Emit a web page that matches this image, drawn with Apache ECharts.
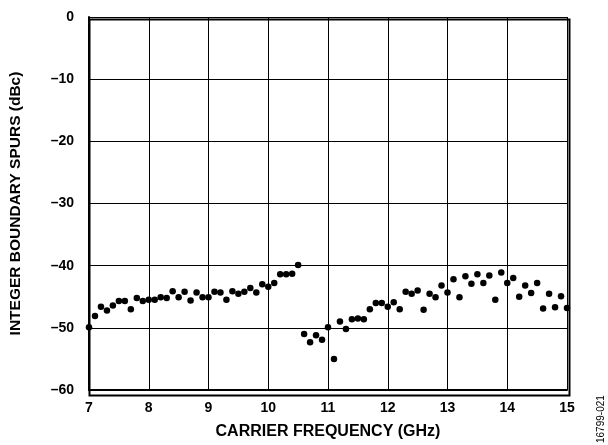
<!DOCTYPE html>
<html><head><meta charset="utf-8">
<script src="https://cdn.jsdelivr.net/npm/echarts@6/dist/echarts.min.js"></script>
<style>html,body{margin:0;padding:0;background:#fff}#c{width:608px;height:445px}</style>
</head><body><div id="c"></div>
<script>
const freqGHz = [7.0,7.1,7.2,7.3,7.4,7.5,7.6,7.7,7.8,7.9,8.0,8.1,8.2,8.3,8.4,8.5,8.6,8.7,8.8,8.9,9.0,9.1,9.2,9.3,9.4,9.5,9.6,9.7,9.8,9.9,10.0,10.1,10.2,10.3,10.4,10.5,10.6,10.7,10.8,10.9,11.0,11.1,11.2,11.3,11.4,11.5,11.6,11.7,11.8,11.9,12.0,12.1,12.2,12.3,12.4,12.5,12.6,12.7,12.8,12.9,13.0,13.1,13.2,13.3,13.4,13.5,13.6,13.7,13.8,13.9,14.0,14.1,14.2,14.3,14.4,14.5,14.6,14.7,14.8,14.9,15.0];
const spurs_dBc = [-49.9,-48.1,-46.6,-47.2,-46.4,-45.7,-45.7,-47.0,-45.2,-45.7,-45.5,-45.5,-45.1,-45.2,-44.1,-45.1,-44.2,-45.6,-44.3,-45.1,-45.1,-44.2,-44.3,-45.5,-44.1,-44.5,-44.2,-43.6,-44.3,-43.0,-43.4,-42.8,-41.4,-41.4,-41.3,-39.9,-51.0,-52.3,-51.2,-51.9,-49.9,-55.0,-49.0,-50.2,-48.6,-48.5,-48.6,-47.0,-46.0,-46.0,-46.6,-45.9,-47.0,-44.2,-44.5,-44.0,-47.1,-44.5,-45.1,-43.2,-44.3,-42.2,-45.1,-41.7,-42.9,-41.4,-42.8,-41.6,-45.5,-41.1,-42.8,-42.0,-45.0,-43.2,-44.4,-42.8,-46.9,-44.5,-46.7,-44.9,-46.8];
const xTicks = [7,8,9,10,11,12,13,14,15];
const yTicks = [0,-10,-20,-30,-40,-50,-60];
const xTitle = 'CARRIER FREQUENCY (GHz)';
const yTitle = 'INTEGER BOUNDARY SPURS (dBc)';
const figId = '16799-021';

const F = 'Liberation Sans, Arial, sans-serif';
const chart = echarts.init(document.getElementById('c'), null, {renderer:'canvas'});
chart.setOption({
  animation:false,
  grid:{left:87,top:17,right:41,bottom:53,containLabel:false},
  xAxis:{type:'value',min:xTicks[0],max:xTicks[xTicks.length-1],interval:1,
    name:xTitle,nameLocation:'middle',nameGap:34,
    nameTextStyle:{fontFamily:F,fontWeight:'bold',fontSize:16,color:'#000'},
    axisLine:{show:true,onZero:false,lineStyle:{color:'#000',width:2}},
    axisTick:{show:false},
    axisLabel:{fontFamily:F,fontWeight:'bold',fontSize:14,color:'#000',margin:11,
      formatter:v=>xTicks.includes(v)?String(v):''},
    splitLine:{show:true,lineStyle:{color:'#000',width:1}}},
  yAxis:{type:'value',min:-60,max:0,interval:10,
    name:yTitle,nameLocation:'middle',nameGap:65,nameRotate:90,
    nameTextStyle:{fontFamily:F,fontWeight:'bold',fontSize:15.5,color:'#000'},
    axisLine:{show:true,onZero:false,lineStyle:{color:'#000',width:2}},
    axisTick:{show:false},
    axisLabel:{fontFamily:F,fontWeight:'bold',fontSize:14,color:'#000',margin:15,
      formatter:v=>yTicks.includes(v)?(v<0?'\u2013'+Math.abs(v):String(v)):''},
    splitLine:{show:true,lineStyle:{color:'#000',width:1}}},
  graphic:[
    {type:'rect',left:87,top:17,shape:{width:480,height:376},style:{fill:'none',stroke:'#000',lineWidth:2},z:10,silent:true},
    {type:'text',rotation:Math.PI/2,x:596,y:443,style:{text:figId,fontFamily:F,fontSize:10,fill:'#000',textVerticalAlign:'top'}}
  ],
  series:[{type:'scatter',data:freqGHz.map((f,i)=>[f,spurs_dBc[i]]),symbol:'circle',symbolSize:6.5,
    itemStyle:{color:'#000',opacity:1},z:20}]
});
</script></body></html>
